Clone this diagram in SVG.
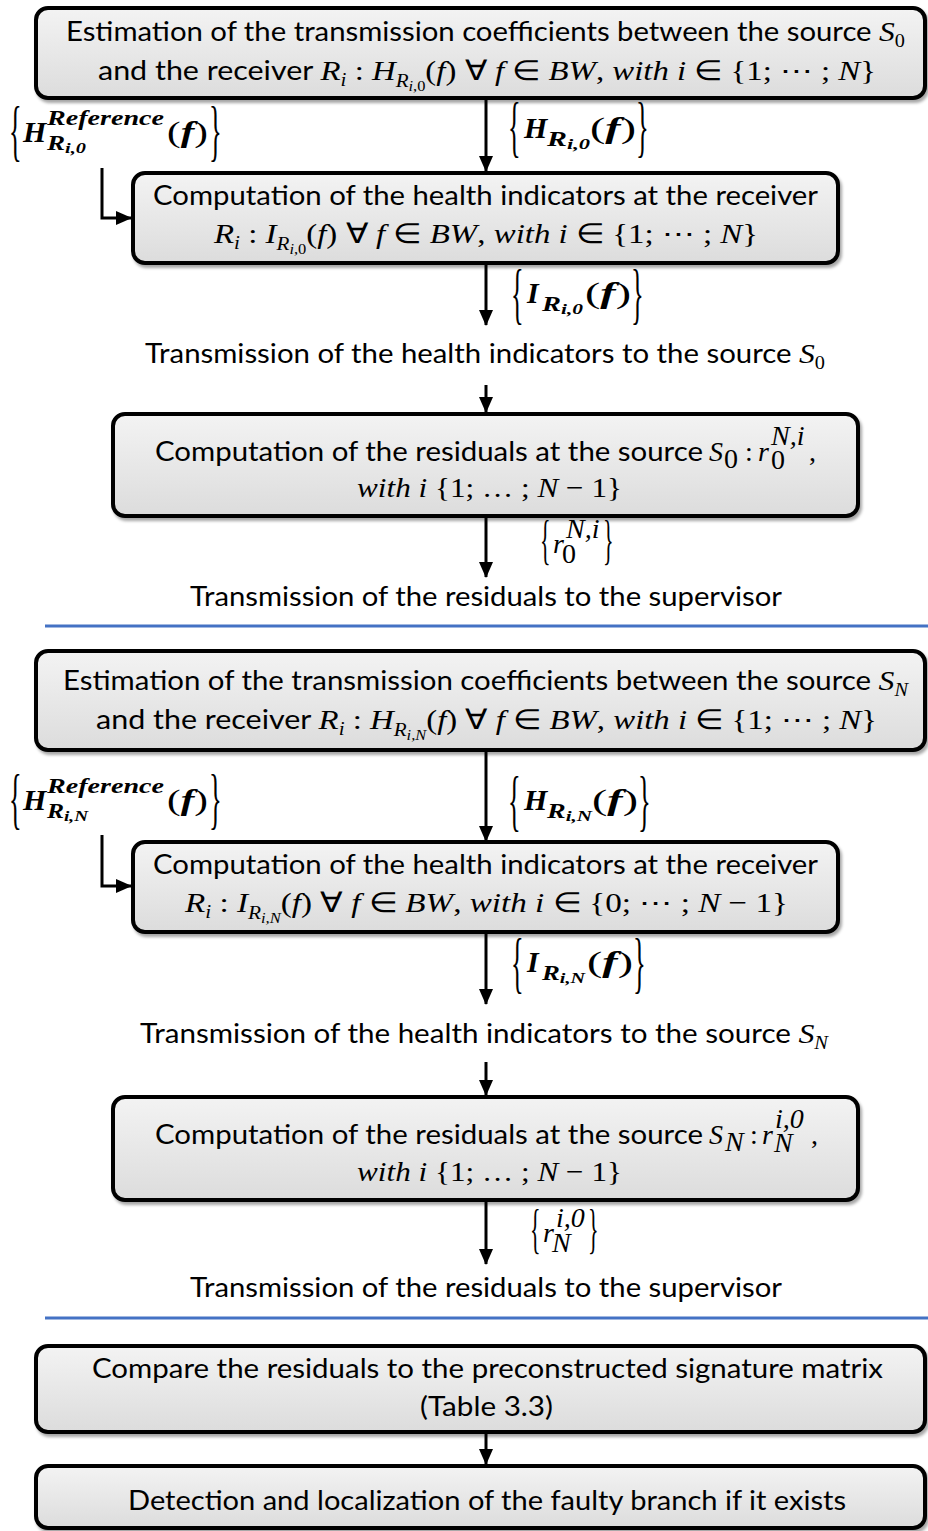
<svg xmlns="http://www.w3.org/2000/svg" width="928" height="1531" viewBox="0 0 928 1531">
<defs>
<linearGradient id="gf" x1="0" y1="0" x2="0" y2="1">
<stop offset="0" stop-color="#f3f3f3"/><stop offset="1" stop-color="#dcdcdc"/>
</linearGradient>
<filter id="sh" x="-5%" y="-10%" width="110%" height="130%">
<feDropShadow dx="2" dy="3" stdDeviation="1.5" flood-color="#000" flood-opacity="0.35"/>
</filter>
<marker id="ah" markerUnits="userSpaceOnUse" markerWidth="16" markerHeight="16" viewBox="0 0 16 16" refX="15" refY="8" orient="auto">
<path d="M0,1 L16,8 L0,15 Z" fill="#000"/>
</marker>
<style>
.box{fill:url(#gf);stroke:#000;stroke-width:4;filter:url(#sh)}
.t{font-family:Lato,"Open Sans",sans-serif;font-size:26px;fill:#000}
.mi{font-family:"Liberation Serif",serif;font-style:italic;font-size:28px}
.mu{font-family:"Liberation Serif",serif;font-style:normal;font-size:28px}
.s1{font-size:18px}
.s2{font-size:14px}
.bi{font-family:"Liberation Serif",serif;font-style:italic;font-weight:bold;fill:#000}
.br{font-family:"Liberation Serif",serif;font-weight:normal;fill:#000}
.bk{font-family:"Liberation Serif",serif;font-weight:normal;font-size:44px;fill:#000}
.bks{font-family:"Liberation Serif",serif;font-weight:normal;font-size:40px;fill:#000}
.ln{stroke:#000;stroke-width:3;fill:none}
.sep{stroke:#4472C4;stroke-width:3}
</style>
</defs>

<g id="connectors">
<line class="ln" x1="486" y1="98" x2="486" y2="171" marker-end="url(#ah)"/>
<polyline class="ln" points="102,168 102,218 131,218" marker-end="url(#ah)"/>
<line class="ln" x1="486" y1="263" x2="486" y2="325" marker-end="url(#ah)"/>
<line class="ln" x1="486" y1="385" x2="486" y2="412" marker-end="url(#ah)"/>
<line class="ln" x1="486" y1="516" x2="486" y2="577" marker-end="url(#ah)"/>
<line class="ln" x1="486" y1="750" x2="486" y2="841" marker-end="url(#ah)"/>
<polyline class="ln" points="102,835 102,886 131,886" marker-end="url(#ah)"/>
<line class="ln" x1="486" y1="932" x2="486" y2="1004" marker-end="url(#ah)"/>
<line class="ln" x1="486" y1="1062" x2="486" y2="1095" marker-end="url(#ah)"/>
<line class="ln" x1="486" y1="1200" x2="486" y2="1264" marker-end="url(#ah)"/>
<line class="ln" x1="486" y1="1432" x2="486" y2="1464" marker-end="url(#ah)"/>
</g>

<g id="separators">
<line class="sep" x1="45" y1="626" x2="928" y2="626"/>
<line class="sep" x1="45" y1="1318" x2="928" y2="1318"/>
</g>

<g id="box1">
<rect class="box" x="36" y="8" width="889" height="90" rx="12"/>
<text class="t" x="66" y="41" textLength="839" lengthAdjust="spacingAndGlyphs">Estimation of the transmission coefficients between the source <tspan class="mi">S</tspan><tspan class="mu s1" dy="6">0</tspan></text>
<text class="t" x="98" y="80" textLength="778" lengthAdjust="spacingAndGlyphs">and the receiver <tspan class="mi">R</tspan><tspan class="mi s1" dy="6">i</tspan><tspan class="mu" dy="-6"> : </tspan><tspan class="mi">H</tspan><tspan class="mi s1" dy="7">R</tspan><tspan class="mi s2" dy="4">i</tspan><tspan class="mu s2">,0</tspan><tspan class="mu" dy="-11">(</tspan><tspan class="mi">f</tspan><tspan class="mu">) ∀ </tspan><tspan class="mi">f</tspan><tspan class="mu"> ∈ </tspan><tspan class="mi">BW</tspan><tspan class="mu">, </tspan><tspan class="mi">with i</tspan><tspan class="mu"> ∈ {1; ⋯ ; </tspan><tspan class="mi">N</tspan><tspan class="mu">}</tspan></text>
</g>

<g id="label-href0">
<text class="bk" transform="translate(9,153) scale(0.6,1.55)">{</text>
<text class="bi" x="23" y="142" font-size="30">H</text>
<text class="bi" x="47" y="125" font-size="21" textLength="117" lengthAdjust="spacingAndGlyphs">Reference</text>
<text class="bi" x="47" y="150" font-size="20" textLength="39" lengthAdjust="spacingAndGlyphs">R<tspan font-size="15" dy="3">i,0</tspan></text>
<text class="br" x="167" y="142" font-size="30" textLength="41" lengthAdjust="spacingAndGlyphs">(<tspan class="bi">f</tspan>)</text>
<text class="bk" transform="translate(209,153) scale(0.6,1.55)">}</text>
</g>

<g id="label-h0">
<text class="bk" transform="translate(508,149) scale(0.6,1.55)">{</text>
<text class="bi" x="524" y="138" font-size="30">H</text>
<text class="bi" x="547" y="146" font-size="20" textLength="43" lengthAdjust="spacingAndGlyphs">R<tspan font-size="15" dy="3">i,0</tspan></text>
<text class="br" x="590" y="138" font-size="30" textLength="46" lengthAdjust="spacingAndGlyphs">(<tspan class="bi">f</tspan>)</text>
<text class="bk" transform="translate(636,149) scale(0.6,1.55)">}</text>
</g>

<g id="box2">
<rect class="box" x="133" y="173" width="705" height="90" rx="12"/>
<text class="t" x="153" y="205" textLength="665" lengthAdjust="spacingAndGlyphs">Computation of the health indicators at the receiver</text>
<text class="t" x="214" y="243" textLength="544" lengthAdjust="spacingAndGlyphs"><tspan class="mi">R</tspan><tspan class="mi s1" dy="6">i</tspan><tspan class="mu" dy="-6"> : </tspan><tspan class="mi">I</tspan><tspan class="mi s1" dy="7">R</tspan><tspan class="mi s2" dy="4">i</tspan><tspan class="mu s2">,0</tspan><tspan class="mu" dy="-11">(</tspan><tspan class="mi">f</tspan><tspan class="mu">) ∀ </tspan><tspan class="mi">f</tspan><tspan class="mu"> ∈ </tspan><tspan class="mi">BW</tspan><tspan class="mu">, </tspan><tspan class="mi">with i</tspan><tspan class="mu"> ∈ {1; ⋯ ; </tspan><tspan class="mi">N</tspan><tspan class="mu">}</tspan></text>
</g>

<g id="label-i0">
<text class="bk" transform="translate(511,316) scale(0.6,1.55)">{</text>
<text class="bi" x="527" y="303" font-size="30">I</text>
<text class="bi" x="542" y="311" font-size="20" textLength="41" lengthAdjust="spacingAndGlyphs">R<tspan font-size="15" dy="3">i,0</tspan></text>
<text class="br" x="585" y="303" font-size="30" textLength="46" lengthAdjust="spacingAndGlyphs">(<tspan class="bi">f</tspan>)</text>
<text class="bk" transform="translate(631,316) scale(0.6,1.55)">}</text>
</g>

<g id="text-trans1">
<text class="t" x="145" y="363" textLength="680" lengthAdjust="spacingAndGlyphs">Transmission of the health indicators to the source <tspan class="mi">S</tspan><tspan class="mu s1" dy="6">0</tspan></text>
</g>

<g id="box3">
<rect class="box" x="113" y="414" width="745" height="102" rx="12"/>
<text class="t" x="155" y="461" textLength="548" lengthAdjust="spacingAndGlyphs">Computation of the residuals at the source</text>
<text class="mi" x="709" y="461">S</text>
<text class="mu" x="724" y="468" font-size="18">0</text>
<text class="mu" x="745" y="461">:</text>
<text class="mi" x="758" y="461">r</text>
<text class="mi" x="771" y="445" font-size="18">N,i</text>
<text class="mu" x="771" y="469" font-size="18">0</text>
<text class="mu" x="809" y="461">,</text>
<text class="t" x="357" y="497" textLength="265" lengthAdjust="spacingAndGlyphs"><tspan class="mi">with i</tspan><tspan class="mu"> {1; … ; </tspan><tspan class="mi">N</tspan><tspan class="mu"> − 1}</tspan></text>
</g>

<g id="label-r0">
<text class="bks" transform="translate(540,558) scale(0.55,1.35)">{</text>
<text class="mi" x="553" y="553" font-size="26">r</text>
<text class="mi" x="566" y="538" font-size="18">N,i</text>
<text class="mu" x="562" y="563" font-size="17">0</text>
<text class="bks" transform="translate(603,558) scale(0.55,1.35)">}</text>
</g>

<g id="text-sup1">
<text class="t" x="190" y="606" textLength="592" lengthAdjust="spacingAndGlyphs">Transmission of the residuals to the supervisor</text>
</g>

<g id="box4">
<rect class="box" x="36" y="651" width="889" height="99" rx="12"/>
<text class="t" x="63" y="690" textLength="845" lengthAdjust="spacingAndGlyphs">Estimation of the transmission coefficients between the source <tspan class="mi">S</tspan><tspan class="mi s1" dy="6">N</tspan></text>
<text class="t" x="96" y="729" textLength="781" lengthAdjust="spacingAndGlyphs">and the receiver <tspan class="mi">R</tspan><tspan class="mi s1" dy="6">i</tspan><tspan class="mu" dy="-6"> : </tspan><tspan class="mi">H</tspan><tspan class="mi s1" dy="7">R</tspan><tspan class="mi s2" dy="4">i,N</tspan><tspan class="mu" dy="-11">(</tspan><tspan class="mi">f</tspan><tspan class="mu">) ∀ </tspan><tspan class="mi">f</tspan><tspan class="mu"> ∈ </tspan><tspan class="mi">BW</tspan><tspan class="mu">, </tspan><tspan class="mi">with i</tspan><tspan class="mu"> ∈ {1; ⋯ ; </tspan><tspan class="mi">N</tspan><tspan class="mu">}</tspan></text>
</g>

<g id="label-hrefN">
<text class="bk" transform="translate(9,821) scale(0.6,1.55)">{</text>
<text class="bi" x="23" y="810" font-size="30">H</text>
<text class="bi" x="47" y="793" font-size="21" textLength="117" lengthAdjust="spacingAndGlyphs">Reference</text>
<text class="bi" x="47" y="818" font-size="20" textLength="41" lengthAdjust="spacingAndGlyphs">R<tspan font-size="15" dy="3">i,N</tspan></text>
<text class="br" x="167" y="810" font-size="30" textLength="41" lengthAdjust="spacingAndGlyphs">(<tspan class="bi">f</tspan>)</text>
<text class="bk" transform="translate(209,821) scale(0.6,1.55)">}</text>
</g>

<g id="label-hN">
<text class="bk" transform="translate(508,823) scale(0.6,1.55)">{</text>
<text class="bi" x="524" y="810" font-size="30">H</text>
<text class="bi" x="547" y="818" font-size="20" textLength="45" lengthAdjust="spacingAndGlyphs">R<tspan font-size="15" dy="3">i,N</tspan></text>
<text class="br" x="592" y="810" font-size="30" textLength="46" lengthAdjust="spacingAndGlyphs">(<tspan class="bi">f</tspan>)</text>
<text class="bk" transform="translate(638,823) scale(0.6,1.55)">}</text>
</g>

<g id="box5">
<rect class="box" x="133" y="842" width="705" height="90" rx="12"/>
<text class="t" x="153" y="874" textLength="665" lengthAdjust="spacingAndGlyphs">Computation of the health indicators at the receiver</text>
<text class="t" x="185" y="912" textLength="603" lengthAdjust="spacingAndGlyphs"><tspan class="mi">R</tspan><tspan class="mi s1" dy="6">i</tspan><tspan class="mu" dy="-6"> : </tspan><tspan class="mi">I</tspan><tspan class="mi s1" dy="7">R</tspan><tspan class="mi s2" dy="4">i,N</tspan><tspan class="mu" dy="-11">(</tspan><tspan class="mi">f</tspan><tspan class="mu">) ∀ </tspan><tspan class="mi">f</tspan><tspan class="mu"> ∈ </tspan><tspan class="mi">BW</tspan><tspan class="mu">, </tspan><tspan class="mi">with i</tspan><tspan class="mu"> ∈ {0; ⋯ ; </tspan><tspan class="mi">N</tspan><tspan class="mu"> − 1}</tspan></text>
</g>

<g id="label-iN">
<text class="bk" transform="translate(511,985) scale(0.6,1.55)">{</text>
<text class="bi" x="527" y="972" font-size="30">I</text>
<text class="bi" x="542" y="980" font-size="20" textLength="43" lengthAdjust="spacingAndGlyphs">R<tspan font-size="15" dy="3">i,N</tspan></text>
<text class="br" x="587" y="972" font-size="30" textLength="46" lengthAdjust="spacingAndGlyphs">(<tspan class="bi">f</tspan>)</text>
<text class="bk" transform="translate(633,985) scale(0.6,1.55)">}</text>
</g>

<g id="text-trans2">
<text class="t" x="140" y="1043" textLength="688" lengthAdjust="spacingAndGlyphs">Transmission of the health indicators to the source <tspan class="mi">S</tspan><tspan class="mi s1" dy="6">N</tspan></text>
</g>

<g id="box6">
<rect class="box" x="113" y="1097" width="745" height="103" rx="12"/>
<text class="t" x="155" y="1144" textLength="548" lengthAdjust="spacingAndGlyphs">Computation of the residuals at the source</text>
<text class="mi" x="709" y="1144">S</text>
<text class="mi" x="725" y="1151" font-size="18">N</text>
<text class="mu" x="750" y="1144">:</text>
<text class="mi" x="762" y="1144">r</text>
<text class="mi" x="775" y="1128" font-size="18">i,0</text>
<text class="mi" x="774" y="1152" font-size="18">N</text>
<text class="mu" x="811" y="1144">,</text>
<text class="t" x="357" y="1181" textLength="265" lengthAdjust="spacingAndGlyphs"><tspan class="mi">with i</tspan><tspan class="mu"> {1; … ; </tspan><tspan class="mi">N</tspan><tspan class="mu"> − 1}</tspan></text>
</g>

<g id="label-rN">
<text class="bks" transform="translate(530,1247) scale(0.55,1.35)">{</text>
<text class="mi" x="543" y="1242" font-size="26">r</text>
<text class="mi" x="556" y="1227" font-size="18">i,0</text>
<text class="mi" x="552" y="1252" font-size="17">N</text>
<text class="bks" transform="translate(588,1247) scale(0.55,1.35)">}</text>
</g>

<g id="text-sup2">
<text class="t" x="190" y="1297" textLength="592" lengthAdjust="spacingAndGlyphs">Transmission of the residuals to the supervisor</text>
</g>

<g id="box7">
<rect class="box" x="36" y="1346" width="889" height="86" rx="12"/>
<text class="t" x="92" y="1378" textLength="791" lengthAdjust="spacingAndGlyphs">Compare the residuals to the preconstructed signature matrix</text>
<text class="t" x="420" y="1416" textLength="133" lengthAdjust="spacingAndGlyphs">(Table 3.3)</text>
</g>

<g id="box8">
<rect class="box" x="36" y="1466" width="889" height="62" rx="12"/>
<text class="t" x="128" y="1510" textLength="718" lengthAdjust="spacingAndGlyphs">Detection and localization of the faulty branch if it exists</text>
</g>
</svg>
